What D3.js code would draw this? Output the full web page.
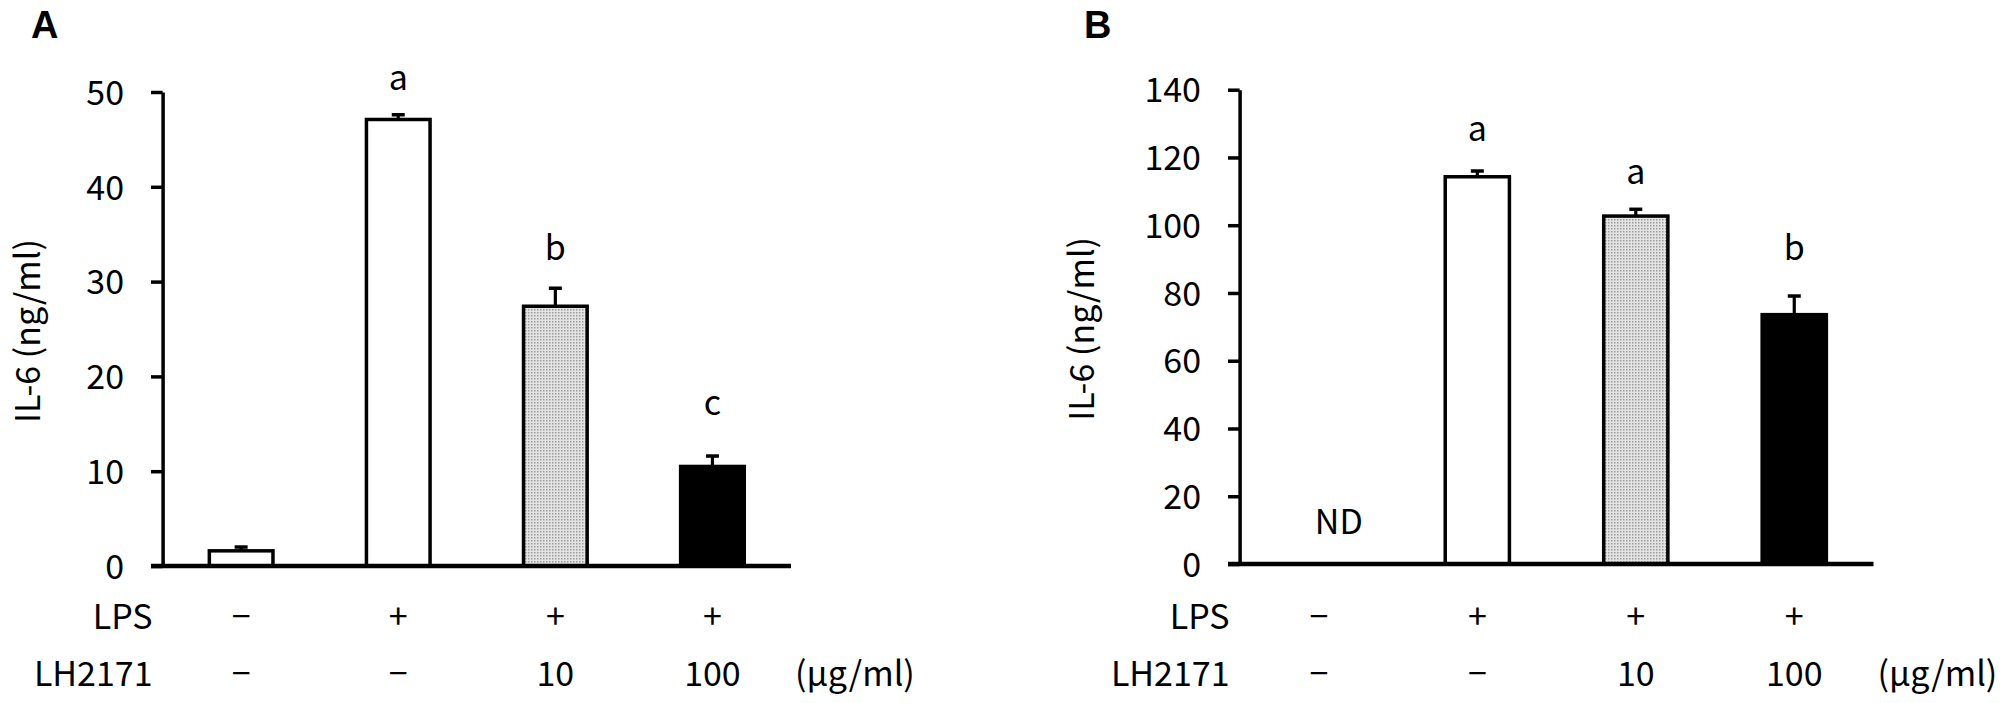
<!DOCTYPE html>
<html><head><meta charset="utf-8">
<script src="https://cdn.jsdelivr.net/npm/d3@7"></script>
<style>
body{margin:0;background:#fff}
text{font-family:"Noto Sans CJK KR","Liberation Sans",Arial,sans-serif;fill:#000}
.panel-tag{font-family:"Liberation Sans",Arial,sans-serif;font-weight:bold}
</style>
</head><body>
<svg id="c" width="2007" height="703"></svg>
<script>
// ---- data ----
const categories = ["Control", "LPS", "LPS + LH2171 10", "LPS + LH2171 100"];
const lpsRow = ["\u2212", "+", "+", "+"];
const lhRow = ["\u2212", "\u2212", "10", "100"];
const unitLabel = "(\u03bcg/ml)";
const yTitle = "IL-6 (ng/ml)";

const valuesA = [1.6, 47.1, 27.4, 10.5];
const errorsA = [0.4, 0.5, 1.9, 1.1];
const lettersA = ["", "a", "b", "c"];
const letterAtA = [null, 50.2, 32.3, 15.9];
const ticksA = [0, 10, 20, 30, 40, 50];

const valuesB = [null, 114.3, 102.7, 73.6];
const errorsB = [null, 1.7, 2.0, 5.5];
const lettersB = ["ND", "a", "a", "b"];
const letterAtB = [9.0, 124.9, 112.2, 89.7];
const ticksB = [0, 20, 40, 60, 80, 100, 120, 140];

const fills = ["#ffffff", "#ffffff", "url(#dots)", "#000000"];

// ---- drawing ----
const svg = d3.select("#c");
const defs = svg.append("defs");
const pat = defs.append("pattern").attr("id", "dots").attr("width", 3).attr("height", 3)
  .attr("patternUnits", "userSpaceOnUse");
pat.append("rect").attr("width", 3).attr("height", 3).attr("fill", "#e4e4e4");
pat.append("rect").attr("width", 1.5).attr("height", 1.5).attr("fill", "#9a9a9a");

const FS = 34;

function panel(cfg) {
  const g = svg.append("g");
  const x = d3.scaleBand().domain(categories).range([cfg.x0, cfg.x1])
    .paddingInner(0.595).paddingOuter(0.2975);
  const y = d3.scaleLinear().domain([0, cfg.max]).range([cfg.y0, cfg.yTop]);

  // y axis
  const ax = g.append("g").attr("transform", `translate(${cfg.x0},0)`)
    .call(d3.axisLeft(y).tickValues(cfg.ticks).tickSize(11.6).tickSizeOuter(0).tickPadding(27));
  ax.select(".domain").attr("stroke", "#000").attr("stroke-width", 3.5);
  ax.selectAll(".tick line").attr("stroke", "#000").attr("stroke-width", 3.5);
  ax.selectAll(".tick text").attr("font-size", FS).attr("font-family", null).attr("dy", "0.36em");

  // bars
  const data = categories.map((c, i) => ({c, v: cfg.values[i], e: cfg.errors[i], f: fills[i], l: cfg.letters[i], la: cfg.letterAt[i]}));
  const withVal = data.filter(d => d.v != null);
  g.selectAll("rect.bar").data(withVal).enter().append("rect").attr("class", "bar")
    .attr("x", d => x(d.c)).attr("width", x.bandwidth())
    .attr("y", d => y(d.v)).attr("height", d => y(0) - y(d.v))
    .attr("fill", d => d.f).attr("stroke", "#000").attr("stroke-width", 3.5);

  // error bars
  const cx = d => x(d.c) + x.bandwidth() / 2;
  g.selectAll("line.err").data(withVal).enter().append("line").attr("class", "err")
    .attr("x1", cx).attr("x2", cx).attr("y1", d => y(d.v)).attr("y2", d => y(d.v + d.e))
    .attr("stroke", "#000").attr("stroke-width", 3.2);
  g.selectAll("line.cap").data(withVal).enter().append("line").attr("class", "cap")
    .attr("x1", d => cx(d) - 6.5).attr("x2", d => cx(d) + 6.5)
    .attr("y1", d => y(d.v + d.e)).attr("y2", d => y(d.v + d.e))
    .attr("stroke", "#000").attr("stroke-width", 3.5);

  // x axis line
  g.append("line").attr("x1", cfg.x0 - 11.6).attr("x2", cfg.x1)
    .attr("y1", y(0)).attr("y2", y(0)).attr("stroke", "#000").attr("stroke-width", 4.5);

  // letters
  g.selectAll("text.sig").data(data.filter(d => d.l)).enter().append("text").attr("class", "sig")
    .attr("x", d => cx(d) + (d.v == null ? 20 : 0)).attr("y", d => y(d.la))
    .attr("text-anchor", "middle").attr("font-size", FS).text(d => d.l);

  // row labels
  g.append("text").attr("x", cfg.x0 - 10).attr("y", cfg.rowY1).attr("text-anchor", "end")
    .attr("font-size", FS).text("LPS");
  g.append("text").attr("x", cfg.x0 - 10).attr("y", cfg.rowY2).attr("text-anchor", "end")
    .attr("font-size", FS).text("LH2171");
  g.selectAll("text.r1").data(categories).enter().append("text").attr("class", "r1")
    .attr("x", c => x(c) + x.bandwidth() / 2).attr("y", cfg.rowY1).attr("text-anchor", "middle")
    .attr("font-size", FS).text((c, i) => lpsRow[i]);
  g.selectAll("text.r2").data(categories).enter().append("text").attr("class", "r2")
    .attr("x", c => x(c) + x.bandwidth() / 2).attr("y", cfg.rowY2).attr("text-anchor", "middle")
    .attr("font-size", FS).text((c, i) => lhRow[i]);
  g.append("text").attr("x", cfg.x1 + 4).attr("y", cfg.rowY2).attr("font-size", FS).text(unitLabel);

  // y title
  g.append("text").attr("transform", `translate(${cfg.titleX},${(cfg.y0 + cfg.yTop) / 2 + 2}) rotate(-90)`)
    .attr("text-anchor", "middle").attr("font-size", FS).text(yTitle);

  // panel tag
  g.append("text").attr("class", "panel-tag").attr("x", cfg.tagX).attr("y", 38)
    .attr("font-size", 38).text(cfg.tag);
}

panel({tag: "A", tagX: 31, x0: 162.6, x1: 791, y0: 566, yTop: 92, max: 50, ticks: ticksA,
  values: valuesA, errors: errorsA, letters: lettersA, letterAt: letterAtA,
  rowY1: 629, rowY2: 686, titleX: 40});
panel({tag: "B", tagX: 1084, x0: 1239.6, x1: 1873.5, y0: 564, yTop: 89.7, max: 140, ticks: ticksB,
  values: valuesB, errors: errorsB, letters: lettersB, letterAt: letterAtB,
  rowY1: 629, rowY2: 686, titleX: 1094});
</script>
</body></html>
